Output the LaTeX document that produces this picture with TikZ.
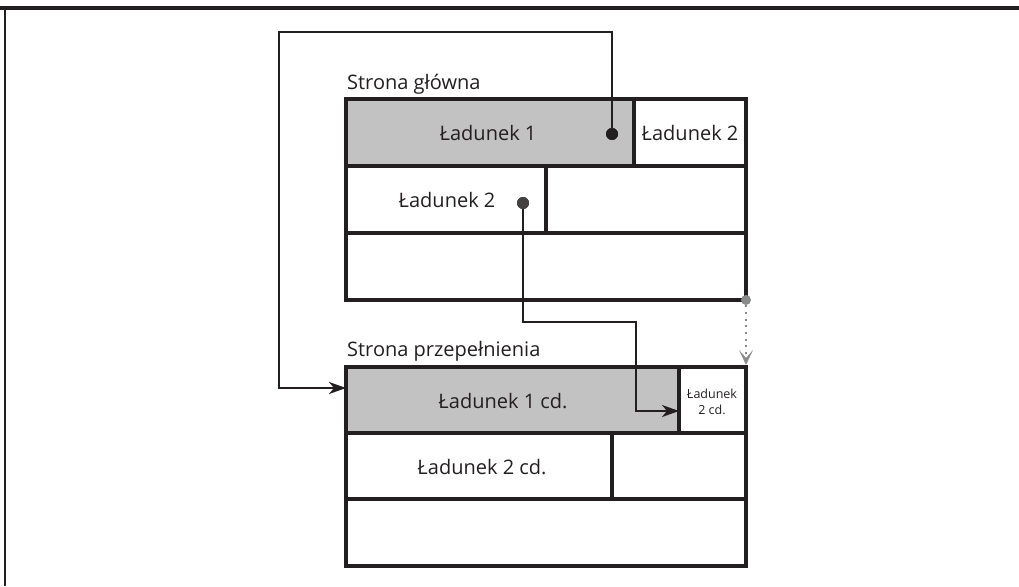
\documentclass[tikz,border=0pt]{standalone}
\usepackage{fontspec}
\setmainfont{Open Sans}
\usetikzlibrary{arrows.meta}
\definecolor{ink}{HTML}{231F20}
\definecolor{cellgray}{HTML}{C2C2C2}
\definecolor{pointgray}{HTML}{8A8A8A}
\tikzset{
  cell/.style={draw=ink, line width=3.5pt, anchor=north west, inner sep=0pt, outer sep=0pt},
  payload/.style={cell, fill=cellgray},
  lbl/.style={text=ink, inner sep=0pt, font=\fontsize{20}{24}\selectfont},
  smalllbl/.style={text=ink, inner sep=0pt, align=center, font=\fontsize{12.5}{16.5}\selectfont},
  title/.style={text=ink, inner sep=0pt, anchor=base west, font=\fontsize{20}{24}\selectfont},
  conn/.style={draw=ink, line width=1.8pt, -{Stealth[length=17pt, width=12pt, inset=5pt]}},
  dot/.style={circle, fill=ink, inner sep=0pt, minimum size=12pt},
  greydot/.style={circle, fill=pointgray, inner sep=0pt, minimum size=10pt},
  nextpage/.style={draw=pointgray, line width=2.2pt, dash pattern=on 2pt off 4.7pt,
    -{Stealth[length=15pt, width=14pt, inset=8pt, fill=pointgray]}},
  frameline/.style={draw=ink}
}
\begin{document}
\begin{tikzpicture}[x=1pt, y=-1pt]
  \useasboundingbox (0,0) rectangle (1019,586);

  % page frame
  \draw[frameline, line width=3.5pt] (0,8) -- (1019,8);
  \draw[frameline, line width=1.8pt] (5,8) -- (5,586);

  % main page
  \node[title] (mainTitle) at (347,89) {Strona główna};
  \node[payload, minimum width=288pt, minimum height=67pt] (t11) at (346,99) {};
  \node[cell, minimum width=112pt, minimum height=67pt] (t12) at (634,99) {};
  \node[cell, minimum width=200pt, minimum height=67pt] (t21) at (346,166) {};
  \node[cell, minimum width=200pt, minimum height=67pt] (t22) at (546,166) {};
  \node[cell, minimum width=400pt, minimum height=67pt] (t3) at (346,233) {};
  \node[lbl] (t11text) at (488,133) {Ładunek 1};
  \node[lbl] (t12text) at (690,133) {Ładunek 2};
  \node[lbl] (t21text) at (447,200) {Ładunek 2};

  % overflow page
  \node[title] (ovfTitle) at (347,356) {Strona przepełnienia};
  \node[payload, minimum width=333pt, minimum height=66pt] (b11) at (346,367) {};
  \node[cell, minimum width=67pt, minimum height=66pt] (b12) at (679,367) {};
  \node[cell, minimum width=266pt, minimum height=66pt] (b21) at (346,433) {};
  \node[cell, minimum width=134pt, minimum height=66pt] (b22) at (612,433) {};
  \node[cell, minimum width=400pt, minimum height=67pt] (b3) at (346,499) {};
  \node[lbl] (b11text) at (503,401) {Ładunek 1 cd.};
  \node[smalllbl] (b12text) at (712,402) {Ładunek\\2 cd.};
  \node[lbl] (b21text) at (482,467) {Ładunek 2 cd.};

  % pointers
  \node[dot] (d1) at (612,134) {};
  \node[dot, fill=ink!85] (d2) at (523,203) {};
  \node[greydot] (d3) at (746,300) {};

  \coordinate (k1) at (279,32);
  \coordinate (a1) at (346,388);
  \coordinate (k2) at (636,322);
  \coordinate (a2) at (679,411);
  \coordinate (a3) at (746,365);

  \draw[conn] (d1.center) |- (k1) |- (a1);
  \draw[conn] (d2.center) |- (k2) |- (a2);
  \draw[nextpage] (d3) -- (a3);

  \node[dot] at (d1) {};
  \node[dot, fill=ink!85] at (d2) {};
\end{tikzpicture}
\end{document}
